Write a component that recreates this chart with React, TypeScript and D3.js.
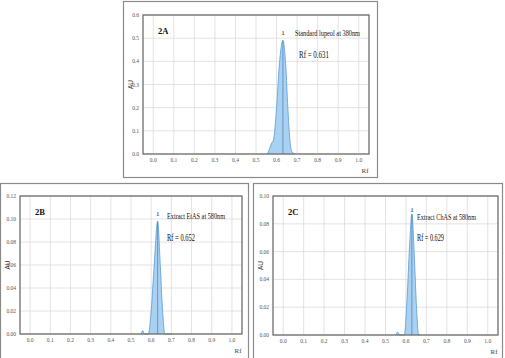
import React from 'react';
import { scaleLinear, area, line, range, curveMonotoneX } from 'd3';

// densitogram profiles (Rf, AU)
const rfTicks = [0.0, 0.1, 0.2, 0.3, 0.4, 0.5, 0.6, 0.7, 0.8, 0.9, 1.0];

const aRf = [0.555, 0.565, 0.575, 0.585, 0.6, 0.615, 0.631, 0.645, 0.655, 0.665, 0.675, 0.69];
const aAu = [0.0, 0.02, 0.045, 0.06, 0.2, 0.4, 0.49, 0.38, 0.2, 0.06, 0.01, 0.0];
const aYTicks = [0.0, 0.1, 0.2, 0.3, 0.4, 0.5, 0.6];

const bRf = [0.55, 0.558, 0.566, 0.586, 0.6, 0.615, 0.632, 0.645, 0.655, 0.668, 0.7];
const bAu = [0.0, 0.003, 0.0, 0.0, 0.02, 0.06, 0.098, 0.06, 0.025, 0.0, 0.0];
const bYTicks = [0.0, 0.02, 0.04, 0.06, 0.08, 0.1, 0.12];

const cRf = [0.55, 0.56, 0.57, 0.592, 0.605, 0.618, 0.629, 0.64, 0.65, 0.662, 0.67];
const cAu = [0.0, 0.002, 0.0, 0.0, 0.025, 0.065, 0.087, 0.06, 0.025, 0.0, 0.0];
const cYTicks = [0.0, 0.02, 0.04, 0.06, 0.08, 0.1];

const font = '"Liberation Serif", "DejaVu Serif", serif';

type PanelProps = {
  frame: [number, number, number, number];
  plot: [number, number, number, number]; // left, top, right, bottom
  rf: number[];
  au: number[];
  yTicks: number[];
  yFmt: (v: number) => string;
  tag: string;
  title: string;
  rfText: string;
  peakRf: number;
  peakAu: number;
  oneY: number;
  titlePos: [number, number, number];
  rfPos: [number, number, number];
};

const Panel = (p: PanelProps) => {
  const [l, t, r, b] = p.plot;
  const x = scaleLinear().domain([-0.05, 1.05]).range([l, r]);
  const yMax = p.yTicks[p.yTicks.length - 1];
  const y = scaleLinear().domain([0, yMax]).range([b, t]);
  const pts = range(p.rf.length).map(i => [p.rf[i], p.au[i]] as [number, number]);
  const ar = area<[number, number]>().x(d => x(d[0])).y0(y(0)).y1(d => y(d[1])).curve(curveMonotoneX);
  const ln = line<[number, number]>().x(d => x(d[0])).y(d => y(d[1])).curve(curveMonotoneX);
  const px = x(p.peakRf);
  const py = y(p.peakAu);
  return (
    <g fontFamily={font}>
      <rect x={p.frame[0]} y={p.frame[1]} width={p.frame[2]} height={p.frame[3]} fill="#fff" stroke="#8a8a8a" strokeWidth={1.2} />
      {rfTicks.map(v => (
        <line key={'gx' + v} x1={x(v)} x2={x(v)} y1={t} y2={b} stroke="#dcdcdc" strokeWidth={0.8} />
      ))}
      {p.yTicks.map(v => (
        <line key={'gy' + v} x1={l} x2={r} y1={y(v)} y2={y(v)} stroke="#dcdcdc" strokeWidth={0.8} />
      ))}
      <path d={ar(pts) || ''} fill="#a9d1f2" />
      <path d={ln(pts) || ''} fill="none" stroke="#5b9bd5" strokeWidth={0.8} />
      <line x1={px} x2={px} y1={py} y2={b} stroke="#3a6ea5" strokeWidth={0.6} />
      <rect x={l} y={t} width={r - l} height={b - t} fill="none" stroke="#6e6e6e" strokeWidth={1.3} />
      {rfTicks.map(v => (
        <text key={'tx' + v} x={x(v)} y={b + 8} fontSize={5.5} textAnchor="middle" fill="#555">{v.toFixed(1)}</text>
      ))}
      {p.yTicks.map(v => (
        <text key={'ty' + v} x={l - 4} y={y(v) + 2} fontSize={5.5} textAnchor="end" fill="#555">{p.yFmt(v)}</text>
      ))}
      <text x={r - 4} y={b + 19} fontSize={7} textAnchor="middle" fill="#444">Rf</text>
      <text transform={`translate(${l - 10},${(t + b) / 2}) rotate(-90)`} fontSize={6.5} textAnchor="middle" fill="#333" fontFamily="Liberation Sans, sans-serif">AU</text>
      <text x={l + 15} y={t + 19} fontSize={8.5} fontWeight="bold" fill="#111">{p.tag}</text>
      <text x={px} y={p.oneY} fontSize={7} textAnchor="middle" fill="#111">1</text>
      <text x={p.titlePos[0]} y={p.titlePos[1]} fontSize={9} fill="#111" textLength={p.titlePos[2]} lengthAdjust="spacingAndGlyphs">{p.title}</text>
      <text x={p.rfPos[0]} y={p.rfPos[1]} fontSize={10} fill="#111" textLength={p.rfPos[2]} lengthAdjust="spacingAndGlyphs">{p.rfText}</text>
    </g>
  );
};

const App = () => (
  <svg width={505} height={358} style={{ position: 'absolute', left: 0, top: 0, background: '#fff' }}>
    <Panel
      frame={[123.5, 1.5, 254, 176]}
      plot={[143, 15, 369, 154]}
      rf={aRf}
      au={aAu}
      yTicks={aYTicks}
      yFmt={v => v.toFixed(1)}
      tag="2A"
      title="Standard lupeol at 380nm"
      rfText="Rf = 0.631"
      peakRf={0.631}
      peakAu={0.49}
      oneY={35}
      titlePos={[295, 36, 65]}
      rfPos={[299, 58, 30]}
    />
    <Panel
      frame={[0.5, 183.5, 248, 180]}
      plot={[20, 196, 242, 334]}
      rf={bRf}
      au={bAu}
      yTicks={bYTicks}
      yFmt={v => v.toFixed(2)}
      tag="2B"
      title="Extract EtAS at 580nm"
      rfText="Rf = 0.652"
      peakRf={0.632}
      peakAu={0.098}
      oneY={216}
      titlePos={[167, 219, 58]}
      rfPos={[167, 241, 28]}
    />
    <Panel
      frame={[253.5, 183.5, 249, 180]}
      plot={[273, 196, 498, 335]}
      rf={cRf}
      au={cAu}
      yTicks={cYTicks}
      yFmt={v => v.toFixed(2)}
      tag="2C"
      title="Extract ChAS at 580nm"
      rfText="Rf = 0.629"
      peakRf={0.629}
      peakAu={0.087}
      oneY={212}
      titlePos={[417, 220, 59]}
      rfPos={[417, 241, 27]}
    />
  </svg>
);

export default App;
